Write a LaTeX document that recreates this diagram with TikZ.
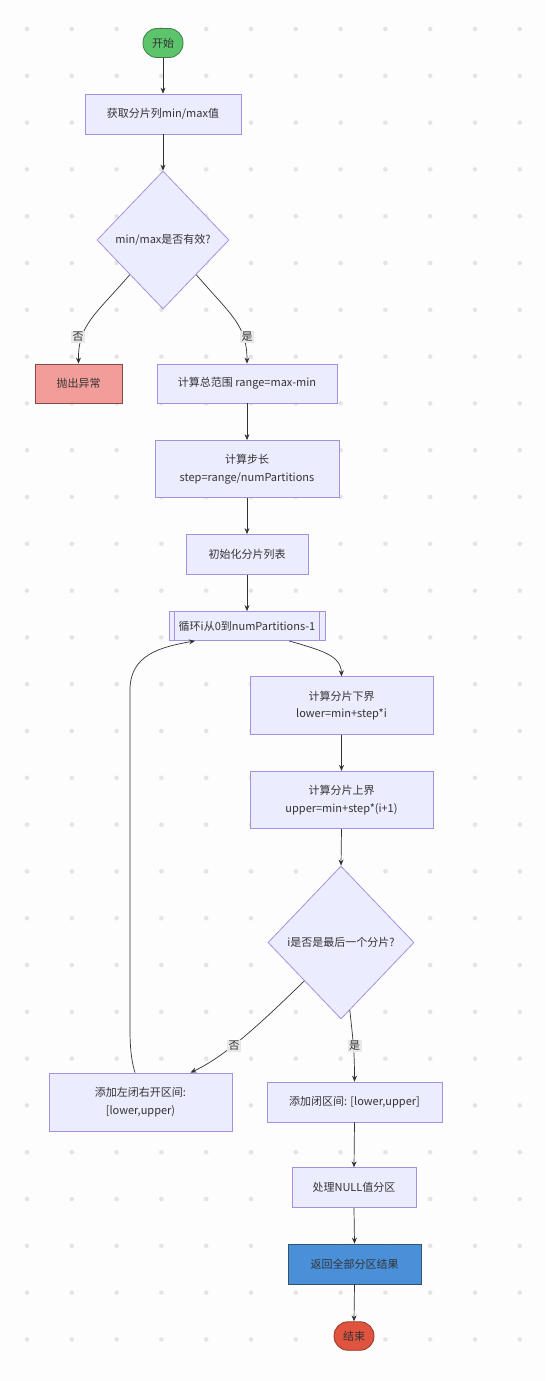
\documentclass[tikz,border=0pt]{standalone}
\usepackage{fontspec}
\setmainfont{Noto Sans CJK SC}
\usetikzlibrary{shapes.geometric,arrows.meta,calc}
\definecolor{bgc}{HTML}{FDFDFD}
\definecolor{dotc}{HTML}{E4E4E4}
\definecolor{boxf}{HTML}{ECECFF}
\definecolor{boxd}{HTML}{A592DE}
\definecolor{txt}{HTML}{333333}
\definecolor{linec}{HTML}{333333}
\definecolor{startf}{HTML}{5CC46B}
\definecolor{startd}{HTML}{3E7F48}
\definecolor{errf}{HTML}{F29D99}
\definecolor{errd}{HTML}{8A4848}
\definecolor{retf}{HTML}{4A90D9}
\definecolor{retd}{HTML}{34536F}
\definecolor{endf}{HTML}{E0533E}
\definecolor{endd}{HTML}{8A3B2E}
\definecolor{labf}{HTML}{E8E8E8}
\newcommand{\fsz}{\fontsize{11}{17.7}\selectfont}
\begin{document}
\begin{tikzpicture}[x=1pt,y=-1pt,
  base/.style={line width=0.8pt, text=txt, font=\fsz, inner sep=0pt, align=center},
  box/.style={base, draw=boxd, fill=boxf, rectangle},
  dia/.style={base, draw=boxd, fill=boxf, diamond},
  term/.style={base, rectangle, rounded corners=14pt},
  elabel/.style={fill=labf, text=txt, font=\fsz, inner sep=1.5pt},
  arr/.style={draw=linec, line width=0.7pt, -{Stealth[length=6pt,width=5pt]}},
  ln/.style={draw=linec, line width=0.7pt}
]
\useasboundingbox (0,0) rectangle (546,1381);
\fill[bgc] (0,0) rectangle (546,1381);
\foreach \i in {0,...,11}{
  \foreach \j in {0,...,28}{
    \fill[dotc] ({27+44.8*\i},{29+46.8*\j}) circle[radius=2.3pt];
  }
}
% nodes
\node[term, draw=startd, fill=startf, minimum width=40pt, minimum height=29pt] (st) at (163,43) {开始};
\node[box, minimum width=156pt, minimum height=40pt] (A) at (163,114) {获取分片列min/max值};
\node[dia, minimum width=132pt, minimum height=138pt] (D1) at (163,240) {min/max是否有效?};
\node[box, draw=errd, fill=errf, minimum width=87pt, minimum height=39pt] (E) at (78.5,383.5) {抛出异常};
\node[box, minimum width=180pt, minimum height=39pt] (R) at (247,383.5) {计算总范围 range=max-min};
\node[box, minimum width=184pt, minimum height=57pt] (S) at (247,469) {计算步长\\step=range/numPartitions};
\node[box, minimum width=122pt, minimum height=40pt] (I) at (247,554.5) {初始化分片列表};
\node[box, minimum width=156pt, minimum height=29pt] (L) at (247,626) {循环i从0到numPartitions-1};
\draw[draw=boxd, line width=0.8pt] ([xshift=6pt]L.north west) -- ([xshift=6pt]L.south west);
\draw[draw=boxd, line width=0.8pt] ([xshift=-6pt]L.north east) -- ([xshift=-6pt]L.south east);
\node[box, minimum width=183pt, minimum height=57.5pt] (LB) at (341.5,705.5) {计算分片下界\\lower=min+step*i};
\node[box, minimum width=183pt, minimum height=57.5pt] (UB) at (341.5,800) {计算分片上界\\upper=min+step*(i+1)};
\node[dia, minimum width=146pt, minimum height=153pt] (D2) at (341,942.5) {i是否是最后一个分片?};
\node[box, minimum width=183pt, minimum height=58pt] (H) at (140.5,1102) {添加左闭右开区间:\\{}[lower,upper)};
\node[box, minimum width=175pt, minimum height=40pt] (C) at (354.5,1102) {添加闭区间: [lower,upper]};
\node[box, minimum width=124pt, minimum height=40pt] (N) at (354,1187.7) {处理NULL值分区};
\node[box, draw=retd, fill=retf, minimum width=133pt, minimum height=40pt] (Ret) at (354.5,1264) {返回全部分区结果};
\node[term, draw=endd, fill=endf, minimum width=40pt, minimum height=28.5pt] (en) at (354,1336) {结束};
% edges
\draw[arr] (st.south) -- (A.north);
\draw[arr] (A.south) -- (D1.north);
\draw[arr] ($(D1.west)!0.5!(D1.south)$) .. controls (95,315) and (78,325) .. (E.north);
\draw[arr] ($(D1.east)!0.5!(D1.south)$) .. controls (231,315) and (247,325) .. (R.north);
\node[elabel] (l1) at (78,337) {否};
\node[elabel] (l2) at (247,337) {是};
\draw[arr] (R.south) -- (S.north);
\draw[arr] (S.south) -- (I.north);
\draw[arr] (I.south) -- (L.north);
\draw[arr] ([xshift=42pt]L.south) .. controls (320,650) and (341,655) .. (LB.north);
\draw[arr] (LB.south) -- (UB.north);
\draw[arr] (UB.south) -- (D2.north);
\draw[arr] ($(D2.west)!0.5!(D2.south)$) .. controls (262,1022) and (226,1056) .. ([xshift=50pt]H.north);
\draw[arr] ($(D2.south)!0.12!(D2.east)$) .. controls (353,1040) and (354.5,1050) .. (C.north);
\node[elabel] (l3) at (234,1046) {否};
\node[elabel] (l4) at (354.5,1046) {是};
\coordinate (up1) at (130,1030);
\coordinate (up2) at (130,690);
\draw[arr] ([xshift=-5.5pt]H.north) .. controls (131,1060) and (130,1045) .. (up1) -- (up2) .. controls (130,655) and (160,647) .. ([xshift=-52pt]L.south);
\draw[arr] (C.south) -- (N.north);
\draw[arr] (N.south) -- (Ret.north);
\draw[arr] (Ret.south) -- (en.north);
\end{tikzpicture}
\end{document}
